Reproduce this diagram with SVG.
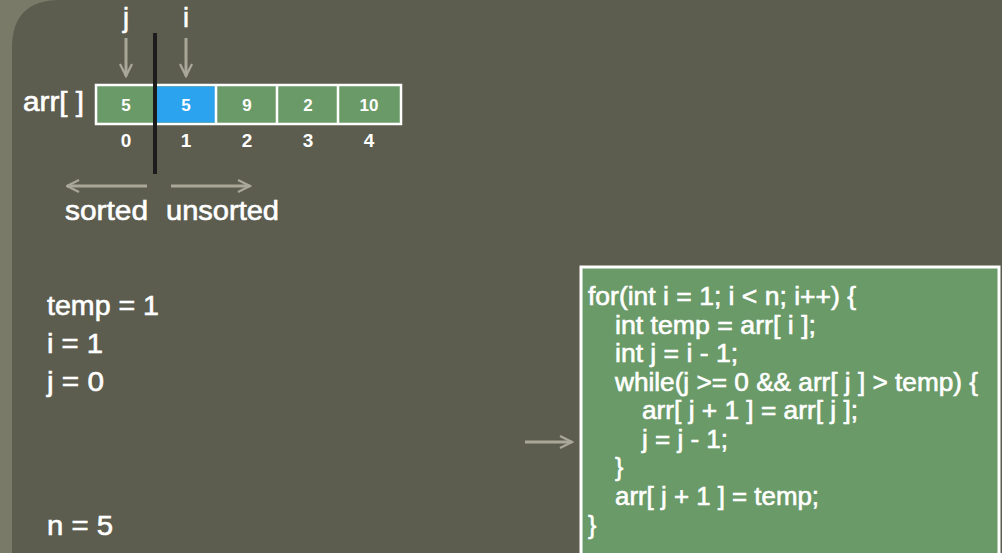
<svg xmlns="http://www.w3.org/2000/svg" width="1002" height="553" viewBox="0 0 1002 553">
<style>
.t{font-family:"Liberation Sans",Arial,sans-serif;fill:#ffffff}
.w{stroke:#ffffff;stroke-width:0.6}
.big{font-size:27px}
.cell{font-size:17px;font-weight:bold;text-anchor:middle}
.idx{font-size:19px;font-weight:bold;text-anchor:middle}
.code{font-size:25px}
.arr{stroke:#a9a898;stroke-width:3;fill:none}
</style>
<defs>
<marker id="ah" viewBox="0 0 10 10" refX="9" refY="5" markerWidth="5" markerHeight="5" orient="auto" markerUnits="strokeWidth">
<path d="M1,1 L9,5 L1,9" fill="none" stroke="#a9a898" stroke-width="1.5"/>
</marker>
</defs>
<rect x="0" y="0" width="1002" height="553" fill="#7a7a69"/>
<path d="M12,553 L12,48 Q12,0 60,0 L1002,0 L1002,553 Z" fill="#5c5d4f"/>

<g id="array">
<text class="t big w" x="23" y="111" textLength="61" lengthAdjust="spacingAndGlyphs">arr[ ]</text>
<rect x="96" y="85" width="305" height="39" fill="#6a9a68" stroke="#ffffff" stroke-width="2.5"/>
<rect x="157" y="86.5" width="59" height="36" fill="#2ba3ee"/>
<line x1="216" y1="85" x2="216" y2="124" stroke="#fff" stroke-width="2.5"/>
<line x1="277" y1="85" x2="277" y2="124" stroke="#fff" stroke-width="2.5"/>
<line x1="338" y1="85" x2="338" y2="124" stroke="#fff" stroke-width="2.5"/>
<text class="t cell" x="126" y="111">5</text>
<text class="t cell" x="186" y="111">5</text>
<text class="t cell" x="247" y="111">9</text>
<text class="t cell" x="308" y="111">2</text>
<text class="t cell" x="369" y="111">10</text>
<text class="t idx" x="126" y="147">0</text>
<text class="t idx" x="186" y="147">1</text>
<text class="t idx" x="247" y="147">2</text>
<text class="t idx" x="308" y="147">3</text>
<text class="t idx" x="369" y="147">4</text>
<line x1="155" y1="33" x2="155" y2="174" stroke="#1c1c1c" stroke-width="4"/>
</g>

<g id="pointers">
<text class="t big w" x="126" y="27" text-anchor="middle">j</text>
<text class="t big w" x="186" y="27" text-anchor="middle">i</text>
</g>

<g id="labels">
<text class="t big w" x="65" y="220" textLength="83" lengthAdjust="spacingAndGlyphs">sorted</text>
<text class="t big w" x="166" y="220" textLength="113" lengthAdjust="spacingAndGlyphs">unsorted</text>
</g>

<g id="vars">
<text class="t big w" x="47" y="315" textLength="112" lengthAdjust="spacingAndGlyphs">temp = 1</text>
<text class="t big w" x="47" y="353" textLength="56" lengthAdjust="spacingAndGlyphs">i = 1</text>
<text class="t big w" x="47" y="391" textLength="57" lengthAdjust="spacingAndGlyphs">j = 0</text>
<text class="t big w" x="47" y="535" textLength="66" lengthAdjust="spacingAndGlyphs">n = 5</text>
</g>

<g id="code">
<rect x="581" y="267" width="418" height="290" fill="#6a9a68" stroke="#ffffff" stroke-width="3"/>
<text class="t code w" x="588" y="305" textLength="268" lengthAdjust="spacingAndGlyphs">for(int i = 1; i &lt; n; i++) {</text>
<text class="t code w" x="615" y="334" textLength="201" lengthAdjust="spacingAndGlyphs">int temp = arr[ i ];</text>
<text class="t code w" x="615" y="362" textLength="123" lengthAdjust="spacingAndGlyphs">int j = i - 1;</text>
<text class="t code w" x="615" y="391" textLength="363" lengthAdjust="spacingAndGlyphs">while(j &gt;= 0 &amp;&amp; arr[ j ] &gt; temp) {</text>
<text class="t code w" x="642" y="419" textLength="216" lengthAdjust="spacingAndGlyphs">arr[ j + 1 ] = arr[ j ];</text>
<text class="t code w" x="642" y="448" textLength="86" lengthAdjust="spacingAndGlyphs">j = j - 1;</text>
<text class="t code w" x="615" y="476">}</text>
<text class="t code w" x="615" y="505" textLength="204" lengthAdjust="spacingAndGlyphs">arr[ j + 1 ] = temp;</text>
<text class="t code w" x="588" y="534">}</text>
</g>

<g id="connectors">
<line class="arr" x1="126" y1="38" x2="126" y2="76" marker-end="url(#ah)"/>
<line class="arr" x1="186" y1="38" x2="186" y2="76" marker-end="url(#ah)"/>
<line class="arr" x1="147" y1="186" x2="67" y2="186" marker-end="url(#ah)"/>
<line class="arr" x1="171" y1="186" x2="250" y2="186" marker-end="url(#ah)"/>
<line class="arr" x1="525" y1="442" x2="572" y2="442" marker-end="url(#ah)"/>
</g>
</svg>
